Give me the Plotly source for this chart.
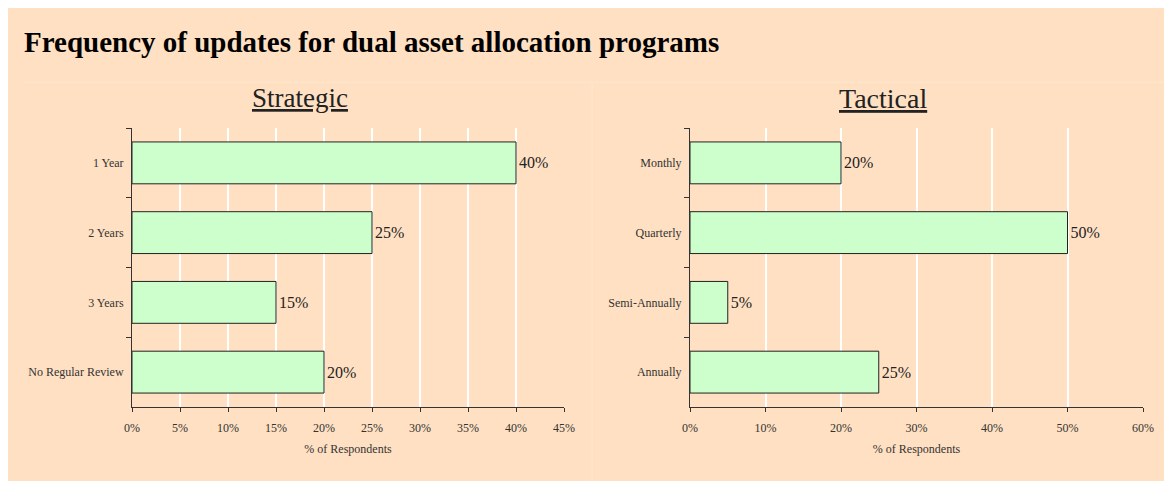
import plotly.graph_objects as go

W, H = 1164, 481

title_text = "Frequency of updates for dual asset allocation programs"

strategic_cats = ["1 Year", "2 Years", "3 Years", "No Regular Review"]
strategic_vals = [40, 25, 15, 20]
strategic_ticks = [0, 5, 10, 15, 20, 25, 30, 35, 40, 45]

tactical_cats = ["Monthly", "Quarterly", "Semi-Annually", "Annually"]
tactical_vals = [20, 50, 5, 25]
tactical_ticks = [0, 10, 20, 30, 40, 50, 60]

BG = "#FFE0C2"
BAR = "#CCFFCC"
SERIF = "Liberation Serif, Times New Roman, serif"

def px(x):
    return x / W

def py(y):
    return 1 - y / H

fig = go.Figure()

fig.add_trace(go.Bar(
    x=strategic_vals, y=strategic_cats, orientation="h",
    marker=dict(color=BAR, line=dict(color="#222222", width=1)),
    text=[f"{v}%" for v in strategic_vals], textposition="outside",
    textfont=dict(family=SERIF, size=16, color="#222222"),
    cliponaxis=False, xaxis="x", yaxis="y", showlegend=False,
))
fig.add_trace(go.Bar(
    x=tactical_vals, y=tactical_cats, orientation="h",
    marker=dict(color=BAR, line=dict(color="#222222", width=1)),
    text=[f"{v}%" for v in tactical_vals], textposition="outside",
    textfont=dict(family=SERIF, size=16, color="#222222"),
    cliponaxis=False, xaxis="x2", yaxis="y2", showlegend=False,
))

ydom = [py(407), py(128)]

xcommon = dict(
    showgrid=True, gridcolor="white", gridwidth=2,
    showline=True, linecolor="#333333", linewidth=1,
    ticks="outside", ticklen=4, tickcolor="#333333",
    zeroline=False,
    tickfont=dict(family=SERIF, size=12, color="#333333"),
    ticklabelstandoff=6,
    title=dict(text="% of Respondents", font=dict(family=SERIF, size=12, color="#333333"), standoff=10),
    fixedrange=True, automargin=False,
)
ycommon = dict(
    showgrid=False, showline=True, linecolor="#333333", linewidth=1,
    ticks="outside", ticklen=5, tickcolor="#333333", tickson="boundaries",
    autorange="reversed", type="category",
    tickfont=dict(family=SERIF, size=12, color="#333333"),
    ticklabelstandoff=5,
    fixedrange=True, automargin=False,
)

fig.update_layout(
    width=W, height=H,
    margin=dict(l=0, r=0, t=0, b=0),
    paper_bgcolor="white", plot_bgcolor="rgba(0,0,0,0)",
    bargap=0.4,
    xaxis=dict(domain=[px(132), px(564)], range=[0, 45], tickvals=strategic_ticks,
               ticktext=[f"{v}%" for v in strategic_ticks], anchor="y", **xcommon),
    yaxis=dict(domain=ydom, anchor="x", **ycommon),
    xaxis2=dict(domain=[px(690), px(1143)], range=[0, 60], tickvals=tactical_ticks,
                ticktext=[f"{v}%" for v in tactical_ticks], anchor="y2", **xcommon),
    yaxis2=dict(domain=ydom, anchor="x2", **ycommon),
    shapes=[
        dict(type="rect", xref="paper", yref="paper", x0=px(8), x1=1, y0=0, y1=py(8),
             fillcolor=BG, line=dict(width=0), layer="below"),
        dict(type="line", xref="paper", yref="paper", x0=px(24), x1=1, y0=py(82), y1=py(82),
             line=dict(color="#FFE7CE", width=1), layer="below"),
        dict(type="line", xref="paper", yref="paper", x0=px(592), x1=px(592), y0=0, y1=py(82),
             line=dict(color="#FFE7CE", width=1), layer="below"),
    ],
    annotations=[
        dict(text=f"<b>{title_text}</b>", xref="paper", yref="paper", x=px(22), y=py(42),
             xanchor="left", yanchor="middle", showarrow=False,
             font=dict(family=SERIF, size=29, color="black")),
        dict(text="<u>Strategic</u>", xref="paper", yref="paper", x=px(300), y=py(98),
             xanchor="center", yanchor="middle", showarrow=False,
             font=dict(family=SERIF, size=27, color="#222222")),
        dict(text="<u>Tactical</u>", xref="paper", yref="paper", x=px(883), y=py(98),
             xanchor="center", yanchor="middle", showarrow=False,
             font=dict(family=SERIF, size=28, color="#222222")),
    ],
)

fig.write_html(
    "out.html",
    config={"displayModeBar": False},
    post_script="document.body.style.margin='0';document.body.style.overflow='hidden';",
)
